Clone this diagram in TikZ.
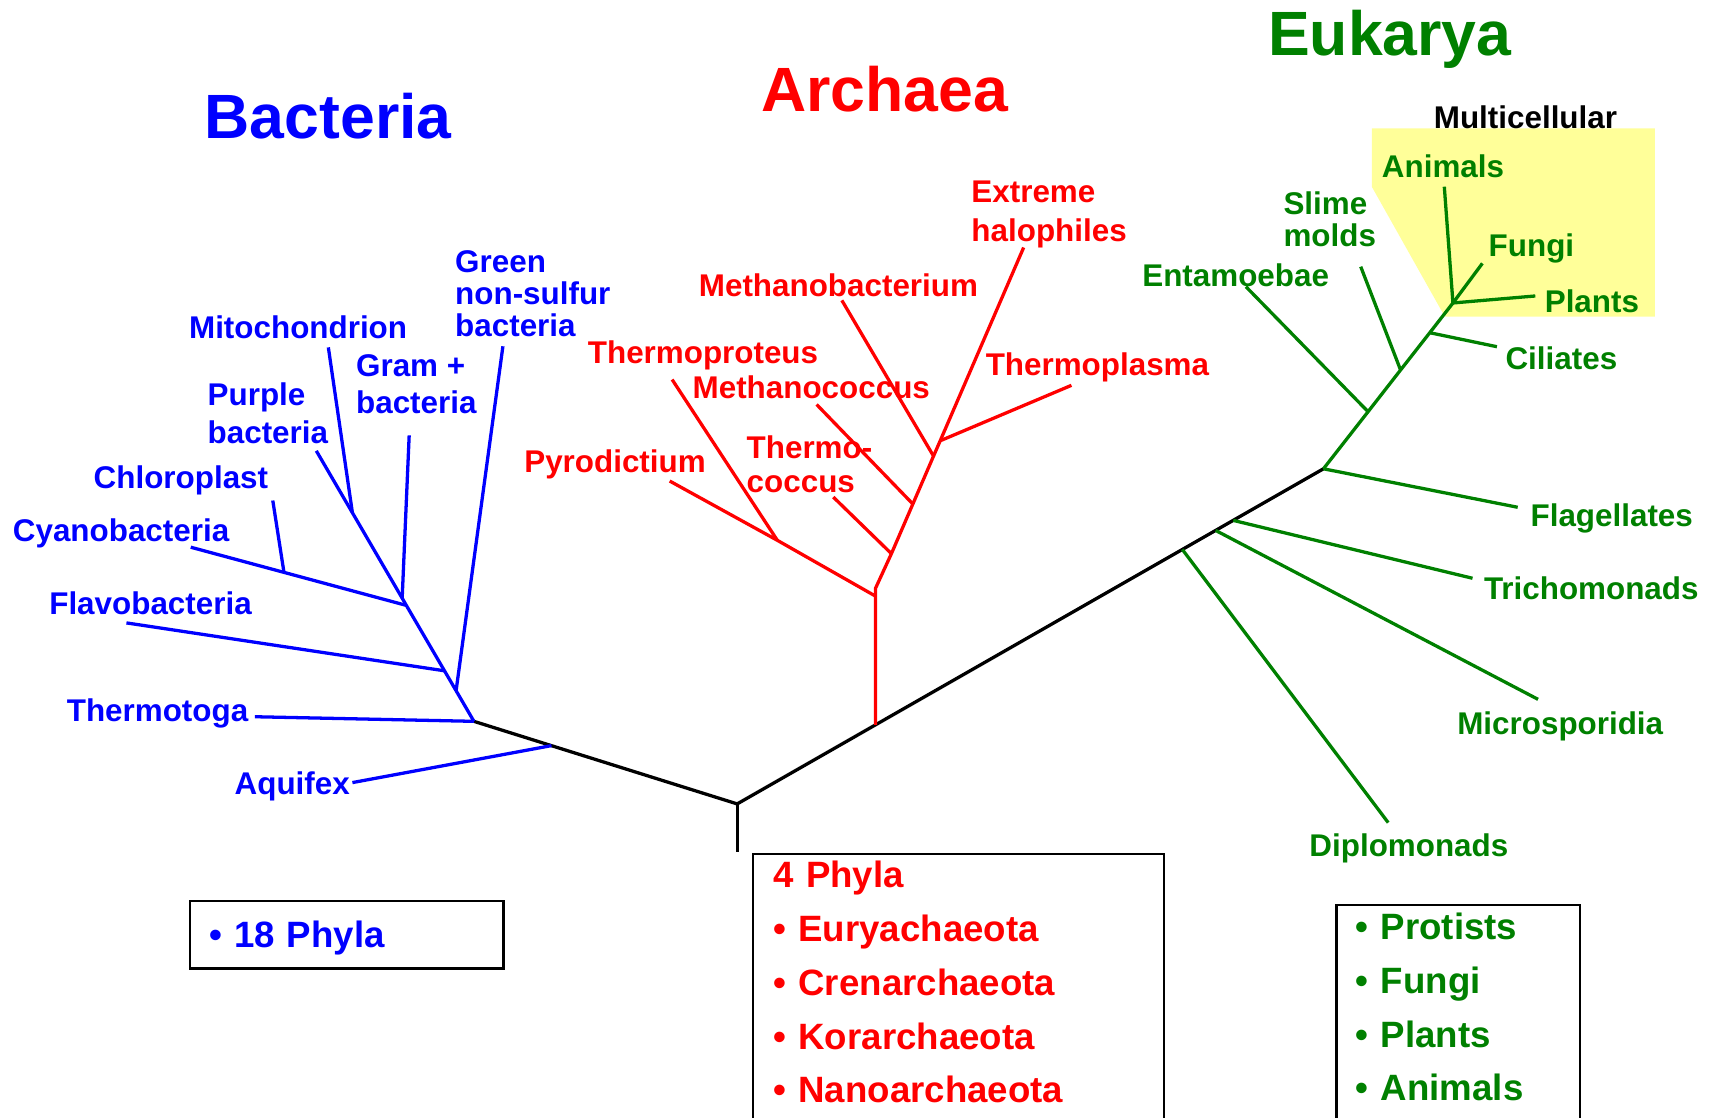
\documentclass[tikz,border=0pt]{standalone}
\usepackage{fontspec}
\setmainfont{Liberation Sans}
\usepackage{xcolor}
\usepackage{tikz}

\definecolor{bactblue}{RGB}{0,0,255}
\definecolor{archred}{RGB}{255,0,0}
\definecolor{eukgreen}{RGB}{0,128,0}
\definecolor{multiyellow}{RGB}{255,255,153}

\begin{document}
\begin{tikzpicture}[
  x=0.5pt, y=-0.5pt,
  branch/.style={line width=1.5pt, line join=round},
  bbranch/.style={branch, color=bactblue},
  abranch/.style={branch, color=archred},
  ebranch/.style={branch, color=eukgreen},
  trunk/.style={branch, color=black},
  lbl/.style={anchor=north west, inner sep=0pt, align=left,
              font=\fontsize{14.35}{14.6}\selectfont\bfseries},
  blbl/.style={lbl, text=bactblue},
  albl/.style={lbl, text=archred},
  elbl/.style={lbl, text=eukgreen},
  domaintitle/.style={anchor=north, inner sep=0pt,
                 font=\fontsize{28.6}{30}\selectfont\bfseries},
  phylabox/.style={draw=black, line width=1.1pt, anchor=north west, align=left,
                   font=\fontsize{16.75}{24.6}\selectfont\bfseries}
]
\useasboundingbox (0,0) rectangle (1568,1022);

\fill[multiyellow] (1254.2,117.3) -- (1513,117.3) -- (1513,289.5) -- (1321,289.5) -- (1254.2,170.7) -- cycle;

\node[domaintitle, text=bactblue] (bacteria) at (300,85) {Bacteria};
\node[domaintitle, text=archred] (archaea) at (809,60) {Archaea};
\node[domaintitle, text=eukgreen] (eukarya) at (1270.7,9) {Eukarya};
\node[anchor=north, inner sep=0pt, font=\fontsize{14.35}{14.6}\selectfont\bfseries] (multi) at (1394.7,96) {Multicellular};

\coordinate (root) at (674,735);
\coordinate (rootbot) at (674,779);
\coordinate (bjunc) at (433.3,659.5);
\coordinate (aqj) at (504.2,681.7);
\coordinate (arj) at (800.4,662.8);
\coordinate (dipj) at (1081,502.4);
\coordinate (micj) at (1111.5,485);
\coordinate (trij) at (1127.6,475.8);
\coordinate (ej) at (1210,428.6);

\coordinate (gnsj) at (417,631.5);
\coordinate (flavj) at (406.4,613.3);
\coordinate (cyaj) at (371.5,553.5);
\coordinate (gramj) at (367.7,546.9);
\coordinate (chlj) at (259.7,523.8);
\coordinate (mitj) at (322.2,468.8);
\coordinate (aqtip) at (322.2,715.5);
\coordinate (tmtip) at (233.1,655.3);
\coordinate (gnstip) at (459.8,316.6);
\coordinate (flavtip) at (115.6,569.5);
\coordinate (cyatip) at (174.4,500.3);
\coordinate (chltip) at (249.4,457.6);
\coordinate (gramtip) at (374.1,398.1);
\coordinate (mittip) at (300.2,317.6);
\coordinate (purtip) at (289.2,412.2);

\coordinate (arst) at (800.4,538);
\coordinate (arstl) at (800.4,545);
\coordinate (ptj) at (710.7,494);
\coordinate (tcj) at (815,506.2);
\coordinate (mcj) at (834.6,460.8);
\coordinate (mbj) at (853.5,417);
\coordinate (tpj) at (859.6,403);
\coordinate (pyrotip) at (612.3,439.8);
\coordinate (tprotip) at (614.5,347);
\coordinate (tctip) at (761.9,454.5);
\coordinate (mctip) at (746.6,369.8);
\coordinate (mbtip) at (769.7,274.6);
\coordinate (tptip) at (979.6,352.3);
\coordinate (halotip) at (935.9,226.3);

\coordinate (entj) at (1250.8,376.4);
\coordinate (slj) at (1280.5,338.3);
\coordinate (cilj) at (1307.2,304.2);
\coordinate (topj) at (1328.4,277);
\coordinate (enttip) at (1139.1,262.1);
\coordinate (sltip) at (1244.1,243.8);
\coordinate (ciltip) at (1368.6,317);
\coordinate (antip) at (1320.5,170.7);
\coordinate (futip) at (1355.3,240.8);
\coordinate (pltip) at (1403.7,270.6);
\coordinate (fltip) at (1387.6,463.8);
\coordinate (trtip) at (1346.3,528.7);
\coordinate (mitip) at (1406.2,639.4);
\coordinate (diptip) at (1269.2,752.1);

\draw[trunk] (bjunc) -- (root) -- (ej);
\draw[trunk] (root) -- (rootbot);

\draw[bbranch] (aqj) -- (aqtip);
\draw[bbranch] (bjunc) -- (tmtip);
\draw[bbranch] (bjunc) -- (gnsj) -- (flavj) -- (cyaj) -- (gramj) -- (mitj) -- (purtip);
\draw[bbranch] (gnsj) -- (gnstip);
\draw[bbranch] (flavj) -- (flavtip);
\draw[bbranch] (cyaj) -- (cyatip);
\draw[bbranch] (chlj) -- (chltip);
\draw[bbranch] (gramj) -- (gramtip);
\draw[bbranch] (mitj) -- (mittip);

\draw[abranch] (arj) -- (arst) -- (tcj) -- (mcj) -- (mbj) -- (tpj) -- (halotip);
\draw[abranch] (arstl) -- (ptj) -- (pyrotip);
\draw[abranch] (ptj) -- (tprotip);
\draw[abranch] (tcj) -- (tctip);
\draw[abranch] (mcj) -- (mctip);
\draw[abranch] (mbj) -- (mbtip);
\draw[abranch] (tpj) -- (tptip);

\draw[ebranch] (ej) -- (entj) -- (slj) -- (cilj) -- (topj) -- (antip);
\draw[ebranch] (entj) -- (enttip);
\draw[ebranch] (slj) -- (sltip);
\draw[ebranch] (cilj) -- (ciltip);
\draw[ebranch] (topj) -- (futip);
\draw[ebranch] (topj) -- (pltip);
\draw[ebranch] (ej) -- (fltip);
\draw[ebranch] (trij) -- (trtip);
\draw[ebranch] (micj) -- (mitip);
\draw[ebranch] (dipj) -- (diptip);

\node[blbl] (greennonsulfur) at (415.8,229) {Green\\non-sulfur\\bacteria};
\node[blbl] (mitochondrion) at (172.5,288) {Mitochondrion};
\node[blbl] (grampos) at (325.2,323.6) {Gram +\\[2.5pt]bacteria};
\node[blbl] (purple) at (189.5,349.8) {Purple\\[2.6pt]bacteria};
\node[blbl] (chloroplast) at (85.3,425) {Chloroplast};
\node[blbl] (cyano) at (11.4,474) {Cyanobacteria};
\node[blbl] (flavo) at (44.7,540.5) {Flavobacteria};
\node[blbl] (thermotoga) at (60.7,638.5) {Thermotoga};
\node[blbl] (aquifex) at (214.2,705) {Aquifex};

\node[albl] (halophiles) at (887.8,165) {Extreme\\[3.3pt]halophiles};
\node[albl] (methbact) at (638.6,249.8) {Methanobacterium};
\node[albl] (thermoproteus) at (537.1,311) {Thermoproteus};
\node[albl] (methcoc) at (632.9,343.5) {Methanococcus};
\node[albl] (thermoplasma) at (900.9,322.5) {Thermoplasma};
\node[albl] (pyrodictium) at (479,410.7) {Pyrodictium};
\node[albl] (thermococcus) at (682.3,397.8) {Thermo-\\[1pt]coccus};

\node[elbl] (animals) at (1263.1,140.8) {Animals};
\node[elbl] (slimemolds) at (1173.1,175.2) {Slime\\molds};
\node[elbl] (fungi) at (1360.7,213) {Fungi};
\node[elbl] (entamoebae) at (1044,240.8) {Entamoebae};
\node[elbl] (plants) at (1412,264.5) {Plants};
\node[elbl] (ciliates) at (1376.1,317) {Ciliates};
\node[elbl] (flagellates) at (1399,460.2) {Flagellates};
\node[elbl] (trichomonads) at (1356.4,526.6) {Trichomonads};
\node[elbl] (microsporidia) at (1332,650.7) {Microsporidia};
\node[elbl] (diplomonads) at (1196.8,761.9) {Diplomonads};

\node[phylabox, text=bactblue, text width=125.95pt, inner xsep=8.7pt, inner ysep=9.1pt,
      text depth=0.5pt] (bactbox) at (172.6,822.8) {• 18 Phyla};
\node[phylabox, text=archred, text width=169.15pt, inner xsep=9.3pt, inner ysep=3.35pt,
      text depth=130pt] (archbox) at (687.5,779.5)
  {4 Phyla\\• Euryachaeota\\• Crenarchaeota\\• Korarchaeota\\• Nanoarchaeota};
\node[phylabox, text=eukgreen, text width=93.75pt, inner xsep=8.75pt, inner ysep=3.5pt,
      text depth=130pt] (eukbox) at (1221,826.5)
  {• Protists\\• Fungi\\• Plants\\• Animals};

\end{tikzpicture}
\end{document}
